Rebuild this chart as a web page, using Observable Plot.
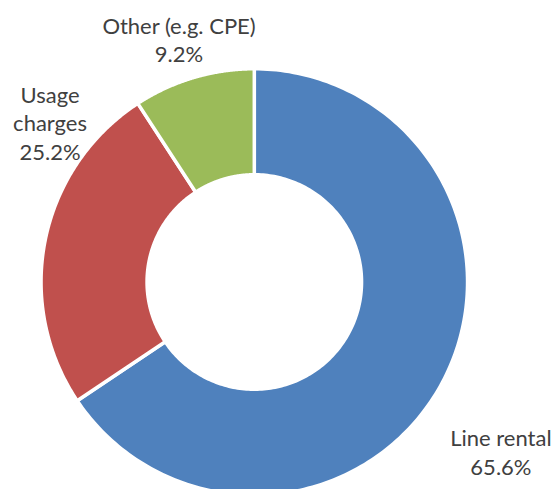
<!DOCTYPE html>
<html>
<head>
<meta charset="utf-8">
<script src="https://cdn.jsdelivr.net/npm/d3@7"></script>
<script src="https://cdn.jsdelivr.net/npm/@observablehq/plot@0.6"></script>
<style>
  html, body { margin: 0; padding: 0; background: #fff; }
  #chart svg { display: block; }
</style>
</head>
<body>
<div id="chart"></div>
<script>
// Data
const categories = ["Line rental", "Usage charges", "Other (e.g. CPE)"];
const shares = [65.6, 25.2, 9.2];
const labelNames = ["Line rental", "Usage\ncharges", "Other (e.g. CPE)"];
const colors = ["#4F81BD", "#C0504D", "#9BBB59"];

// Layout (pixel offsets of labels from the slice's outer mid-point)
const labelOffsets = [[60, 93], [3, -80], [-15, -17]];
const W = 554, H = 489;
const cx = 253.8, cy = 281.5, R = 211.5;
const sw = 3.5;
const outerRatio = (R + sw / 2) / R;
const innerRatio = (109 - sw / 2) / R;

const pie = d3.pie().sort(null).value(d => d.share);
const rows = categories.map((c, i) => ({cat: c, share: shares[i], label: labelNames[i], i}));
const arcs = pie(rows);

// Build slice outlines (in units of the outer radius), angle clockwise from 12 o'clock
const pts = [];
for (const a of arcs) {
  const n = 200;
  const ring = [];
  for (let k = 0; k <= n; k++) {
    const t = a.startAngle + (a.endAngle - a.startAngle) * k / n;
    ring.push({cat: a.data.cat, x: outerRatio * Math.sin(t), y: outerRatio * Math.cos(t)});
  }
  for (let k = n; k >= 0; k--) {
    const t = a.startAngle + (a.endAngle - a.startAngle) * k / n;
    ring.push({cat: a.data.cat, x: innerRatio * Math.sin(t), y: innerRatio * Math.cos(t)});
  }
  ring.push({...ring[0]});
  pts.push(...ring);
}

const labels = arcs.map((a, i) => {
  const m = (a.startAngle + a.endAngle) / 2;
  return {
    x: Math.sin(m), y: Math.cos(m),
    text: a.data.label + "\n" + a.data.share.toFixed(1) + "%",
    dx: labelOffsets[i][0], dy: labelOffsets[i][1]
  };
});

const chart = Plot.plot({
  width: W,
  height: H,
  margin: 0,
  style: {background: "#fff", overflow: "hidden"},
  x: {domain: [-cx / R, (W - cx) / R], range: [0, W], axis: null},
  y: {domain: [(cy - H) / R, cy / R], range: [H, 0], axis: null},
  color: {domain: categories, range: colors},
  marks: [
    Plot.line(pts, {x: "x", y: "y", z: "cat", fill: "cat", stroke: "white", strokeWidth: sw, curve: "linear"}),
    ...labels.map(l => Plot.text([l], {
      x: "x", y: "y", text: "text", dx: l.dx, dy: l.dy,
      lineAnchor: "bottom", lineHeight: 1.3, textAnchor: "middle",
      fill: "#404040", fontSize: 22, fontFamily: "Lato"
    }))
  ]
});
document.getElementById("chart").append(chart);
</script>
</body>
</html>
